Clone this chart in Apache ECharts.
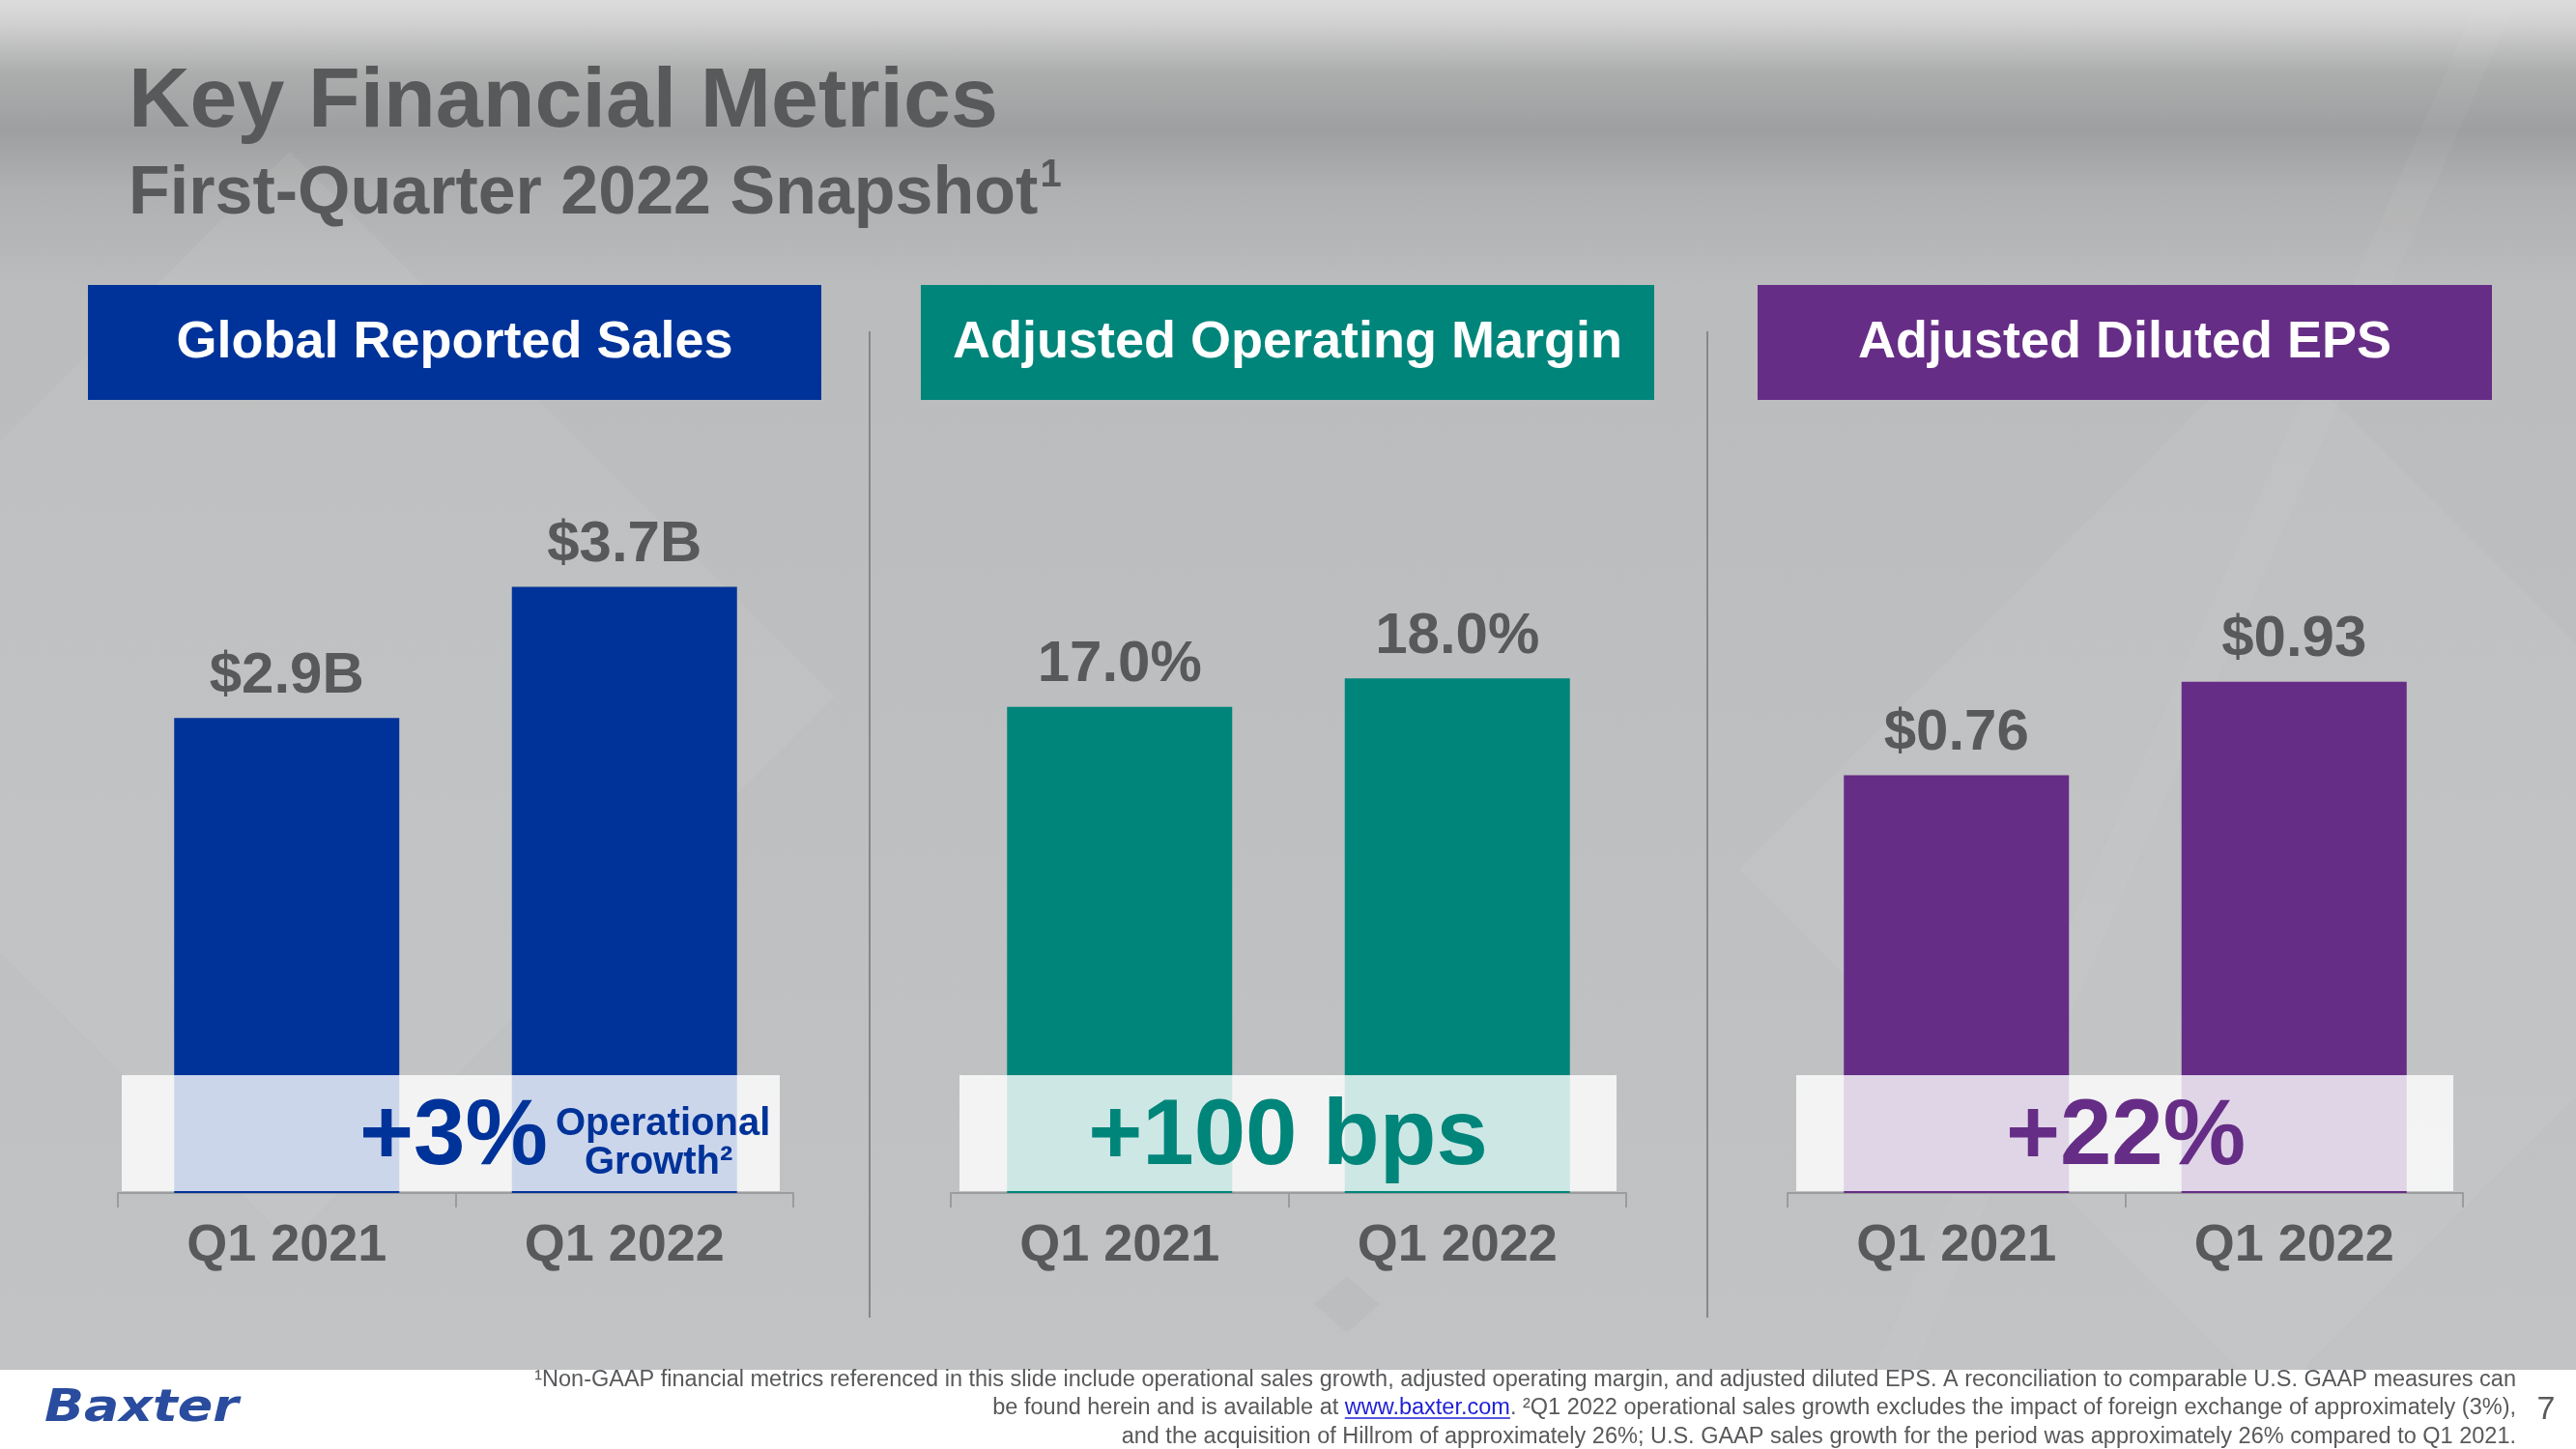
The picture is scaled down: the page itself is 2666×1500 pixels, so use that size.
<!DOCTYPE html>
<html>
<head>
<meta charset="utf-8">
<script src="https://cdn.jsdelivr.net/npm/echarts@6/dist/echarts.min.js"></script>
<style>
html,body{margin:0;padding:0;background:#bdbebf;}
#c{width:2666px;height:1500px;}
</style>
</head>
<body>
<div id="c"></div>
<script>
// ---- data ----
const categories = ['Q1 2021', 'Q1 2022'];
const salesValues = [2.9, 3.7];          // $B
const marginValues = [17.0, 18.0];       // %
const epsValues = [0.76, 0.93];          // $
const panelTitles = ['Global Reported Sales', 'Adjusted Operating Margin', 'Adjusted Diluted EPS'];
const growthTexts = ['+3%', '+100 bps', '+22%'];
const growthNote = ['Operational', 'Growth²'];
const footnoteLines = [
  '¹Non-GAAP financial metrics referenced in this slide include operational sales growth, adjusted operating margin, and adjusted diluted EPS. A reconciliation to comparable U.S. GAAP measures can',
  ['be found herein and is available at ', 'www.baxter.com', '. ²Q1 2022 operational sales growth excludes the impact of foreign exchange of approximately (3%),'],
  'and the acquisition of Hillrom of approximately 26%; U.S. GAAP sales growth for the period was approximately 26% compared to Q1 2021.'
];

// ---- styling / layout ----
const BLUE = '#003399', TEAL = '#00857a', PURPLE = '#662d86';
const GRAY = '#58595b';
const FONT = '"Liberation Sans", Arial, sans-serif';
const colors = [BLUE, TEAL, PURPLE];
const gridLefts = [122, 984, 1850];
const gridWidth = 699;
const gridBottom = 265;
const yMax = [5, 25, 1.2];
const gridTops = [387, 495, 552];
const boxes = [[91, 850], [953, 1712], [1819, 2579]];
const bands = [[126, 807], [993, 1673], [1859, 2539]];
const formatters = [
  v => '$' + v.toFixed(1) + 'B',
  v => v.toFixed(1) + '%',
  v => '$' + v.toFixed(2)
];
const seriesData = [salesValues, marginValues, epsValues];

const chart = echarts.init(document.getElementById('c'), null, {renderer: 'canvas'});

const grids = [], xAxes = [], yAxes = [], series = [];
for (let i = 0; i < 3; i++) {
  grids.push({left: gridLefts[i], width: gridWidth, top: gridTops[i], bottom: gridBottom, containLabel: false});
  xAxes.push({
    type: 'category', gridIndex: i, data: categories,
    axisLine: {show: true, lineStyle: {color: '#9b9c9d', width: 2}},
    axisTick: {show: true, length: 15, lineStyle: {color: '#9b9c9d', width: 2}},
    axisLabel: {color: GRAY, fontSize: 54, fontWeight: 'bold', fontFamily: FONT, margin: 28}
  });
  yAxes.push({type: 'value', gridIndex: i, min: 0, max: yMax[i], show: false, splitLine: {show: false}});
  const f = formatters[i];
  series.push({
    type: 'bar', xAxisIndex: i, yAxisIndex: i, data: seriesData[i],
    barWidth: 233,
    itemStyle: {color: colors[i]},
    label: {show: true, position: 'top', distance: 13, color: GRAY, fontSize: 60, fontWeight: 'bold', fontFamily: FONT,
            formatter: p => f(p.value)},
    emphasis: {disabled: true}, silent: true
  });
}

// measure text for underline of link
const mctx = document.createElement('canvas').getContext('2d');
const FN_SIZE = 23.5;
mctx.font = FN_SIZE + 'px ' + FONT;
const FN_RIGHT = 2604;
const l2full = footnoteLines[1].join('');
const l2w = mctx.measureText(l2full).width;
const preW = mctx.measureText(footnoteLines[1][0]).width;
const linkW = mctx.measureText(footnoteLines[1][1]).width;
const linkX0 = FN_RIGHT - l2w + preW;

const graphics = [];
// background gradient
graphics.push({type: 'rect', z: -100, silent: true, shape: {x: 0, y: 0, width: 2666, height: 1500},
  style: {fill: new echarts.graphic.LinearGradient(0, 0, 0, 1, [
    {offset: 0, color: '#dcdcdc'},
    {offset: 0.015, color: '#d2d2d2'},
    {offset: 0.05, color: '#acadad'},
    {offset: 0.09, color: '#9e9fa0'},
    {offset: 0.13, color: '#afb0b1'},
    {offset: 0.2, color: '#bbbcbd'},
    {offset: 1, color: '#c2c3c4'}
  ])}});
// faint decorative diamonds
graphics.push({type: 'polygon', z: -99, silent: true, shape: {points: [[300, 157], [864, 721], [300, 1285], [-264, 721]]},
  style: {fill: 'rgba(255,255,255,0.06)'}});
graphics.push({type: 'polygon', z: -99, silent: true, shape: {points: [[2350, 350], [2900, 900], [2350, 1450], [1800, 900]]},
  style: {fill: 'rgba(255,255,255,0.05)'}});
graphics.push({type: 'polygon', z: -99, silent: true, shape: {points: [[2560, 10], [2600, 10], [1980, 1418], [1940, 1418]]},
  style: {fill: 'rgba(255,255,255,0.04)'}});
graphics.push({type: 'polygon', z: -99, silent: true, shape: {points: [[1394, 1321], [1428, 1350], [1394, 1380], [1360, 1350]]},
  style: {fill: 'rgba(150,155,165,0.12)'}});

// title & subtitle
graphics.push({type: 'text', z: 10, silent: true, style: {text: 'Key Financial Metrics', x: 133, y: 107, fill: GRAY,
  font: 'bold 88px ' + FONT, align: 'left', verticalAlign: 'middle'}});
graphics.push({type: 'text', z: 10, silent: true, style: {
  text: '{m|First-Quarter 2022 Snapshot}{s|1}', x: 133, y: 202, align: 'left', verticalAlign: 'middle',
  font: 'bold 70px ' + FONT,
  rich: {m: {fill: GRAY, fontSize: 70, fontWeight: 'bold', fontFamily: FONT, lineHeight: 80},
         s: {fill: GRAY, fontSize: 40, fontWeight: 'bold', fontFamily: FONT, verticalAlign: 'top', padding: [0, 0, 22, 2]}}}});

// header boxes
for (let i = 0; i < 3; i++) {
  const [x0, x1] = boxes[i];
  graphics.push({type: 'rect', z: 10, silent: true, shape: {x: x0, y: 295, width: x1 - x0, height: 119}, style: {fill: colors[i]}});
  graphics.push({type: 'text', z: 11, silent: true, style: {text: panelTitles[i], x: (x0 + x1) / 2, y: 355, fill: '#ffffff',
    font: 'bold 54px ' + FONT, align: 'center', verticalAlign: 'middle'}});
}
// dividers
[900, 1767].forEach(x => {
  graphics.push({type: 'line', z: 10, silent: true, shape: {x1: x, y1: 343, x2: x, y2: 1364}, style: {stroke: '#87888a', lineWidth: 2}});
});
// translucent bands + growth texts
for (let i = 0; i < 3; i++) {
  const [x0, x1] = bands[i];
  graphics.push({type: 'rect', z: 100, silent: true, shape: {x: x0, y: 1113, width: x1 - x0, height: 120},
    style: {fill: 'rgba(255,255,255,0.8)'}});
}
graphics.push({type: 'text', z: 101, silent: true, style: {text: growthTexts[0], x: 372, y: 1179, fill: BLUE,
  font: 'bold 96px ' + FONT, align: 'left', verticalAlign: 'middle'}});
graphics.push({type: 'text', z: 101, silent: true, style: {text: growthNote[0], x: 575, y: 1164, fill: BLUE,
  font: 'bold 40px ' + FONT, align: 'left', verticalAlign: 'middle'}});
graphics.push({type: 'text', z: 101, silent: true, style: {text: growthNote[1], x: 605, y: 1204, fill: BLUE,
  font: 'bold 40px ' + FONT, align: 'left', verticalAlign: 'middle'}});
graphics.push({type: 'text', z: 101, silent: true, style: {text: growthTexts[1], x: 1333, y: 1179, fill: TEAL,
  font: 'bold 96px ' + FONT, align: 'center', verticalAlign: 'middle'}});
graphics.push({type: 'text', z: 101, silent: true, style: {text: growthTexts[2], x: 2200, y: 1179, fill: PURPLE,
  font: 'bold 96px ' + FONT, align: 'center', verticalAlign: 'middle'}});

// footer
graphics.push({type: 'rect', z: 50, silent: true, shape: {x: 0, y: 1418, width: 2666, height: 82}, style: {fill: '#ffffff'}});
graphics.push({type: 'text', z: 51, silent: true, x: 46, y: 1459, scaleX: 1.17,
  style: {text: 'Baxter', x: 0, y: 0, fill: '#2a4c9e', font: 'italic bold 46px "DejaVu Sans", ' + FONT, align: 'left', verticalAlign: 'middle'}});
graphics.push({type: 'text', z: 51, silent: true, style: {text: footnoteLines[0], x: FN_RIGHT, y: 1429, fill: GRAY,
  font: FN_SIZE + 'px ' + FONT, align: 'right', verticalAlign: 'middle'}});
graphics.push({type: 'text', z: 51, silent: true, style: {
  text: '{t|' + footnoteLines[1][0] + '}{l|' + footnoteLines[1][1] + '}{t|' + footnoteLines[1][2] + '}',
  x: FN_RIGHT, y: 1458, align: 'right', verticalAlign: 'middle', font: FN_SIZE + 'px ' + FONT,
  rich: {t: {fill: GRAY, fontSize: FN_SIZE, fontFamily: FONT}, l: {fill: '#1f1fd6', fontSize: FN_SIZE, fontFamily: FONT}}}});
graphics.push({type: 'line', z: 51, silent: true, shape: {x1: linkX0, y1: 1468, x2: linkX0 + linkW, y2: 1468},
  style: {stroke: '#1f1fd6', lineWidth: 1.5}});
graphics.push({type: 'text', z: 51, silent: true, style: {text: footnoteLines[2], x: FN_RIGHT, y: 1488, fill: GRAY,
  font: FN_SIZE + 'px ' + FONT, align: 'right', verticalAlign: 'middle'}});
graphics.push({type: 'text', z: 51, silent: true, style: {text: '7', x: 2635, y: 1460, fill: GRAY,
  font: '34px ' + FONT, align: 'center', verticalAlign: 'middle'}});

chart.setOption({
  animation: false,
  backgroundColor: 'transparent',
  grid: grids,
  xAxis: xAxes,
  yAxis: yAxes,
  series: series,
  graphic: {elements: graphics}
});
</script>
</body>
</html>
